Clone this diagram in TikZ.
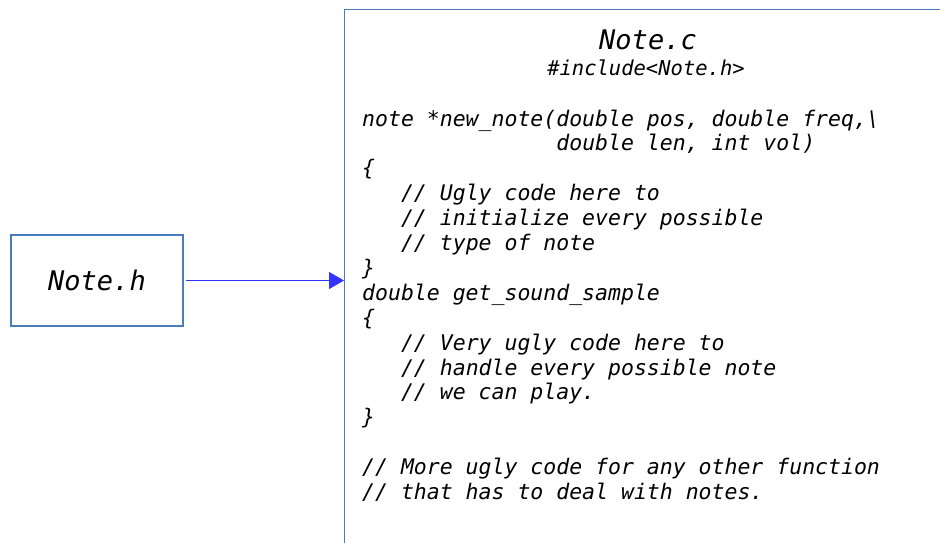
\documentclass[tikz,border=0pt]{standalone}
\usepackage{fontspec}
\setmonofont{DejaVu Sans Mono}
\usetikzlibrary{arrows.meta}
\definecolor{boxcol}{HTML}{4A7EBB}
\definecolor{arrcol}{HTML}{3333FF}
\tikzset{
  box/.style={draw=boxcol, line width=1.2pt, inner sep=0pt},
  code/.style={anchor=base west, inner sep=0pt, font=\ttfamily\itshape\fontsize{21.5}{24}\selectfont},
  conn/.style={draw=arrcol, line width=1.2pt, -{Triangle[length=15pt,width=17pt]}}
}
\begin{document}
\begin{tikzpicture}[x=1pt,y=-1pt]
\useasboundingbox (0,0) rectangle (940,542);
\node[box, minimum width=172pt, minimum height=91pt, font=\ttfamily\itshape\fontsize{27}{30}\selectfont] (h) at (97,280.5) {Note.h};
\node[box, anchor=north west, minimum width=640pt, minimum height=600pt] (c) at (344,9) {};
\node[anchor=base, inner sep=0pt, font=\ttfamily\itshape\fontsize{27}{30}\selectfont] (title) at (648,49) {Note.c};
\node[anchor=base, inner sep=0pt, font=\ttfamily\itshape\fontsize{20.5}{24}\selectfont] (inc) at (646,75) {\#include<Note.h>};
\foreach \i/\t in {0/{note *new\_note(double pos, double freq,\textbackslash},
  1/{\ \ \ \ \ \ \ \ \ \ \ \ \ \ \ double len, int vol)},
  2/{\{},
  3/{\ \ \ // Ugly code here to},
  4/{\ \ \ // initialize every possible},
  5/{\ \ \ // type of note},
  6/{\}},
  7/{double get\_sound\_sample},
  8/{\{},
  9/{\ \ \ // Very ugly code here to},
  10/{\ \ \ // handle every possible note},
  11/{\ \ \ // we can play.},
  12/{\}},
  14/{// More ugly code for any other function},
  15/{// that has to deal with notes.}}
  \node[code] (l\i) at (362,126+24.9*\i) {\t};
\draw[conn] (h.east) ++(2,0) -- (h.east -| c.west);
\end{tikzpicture}
\end{document}
